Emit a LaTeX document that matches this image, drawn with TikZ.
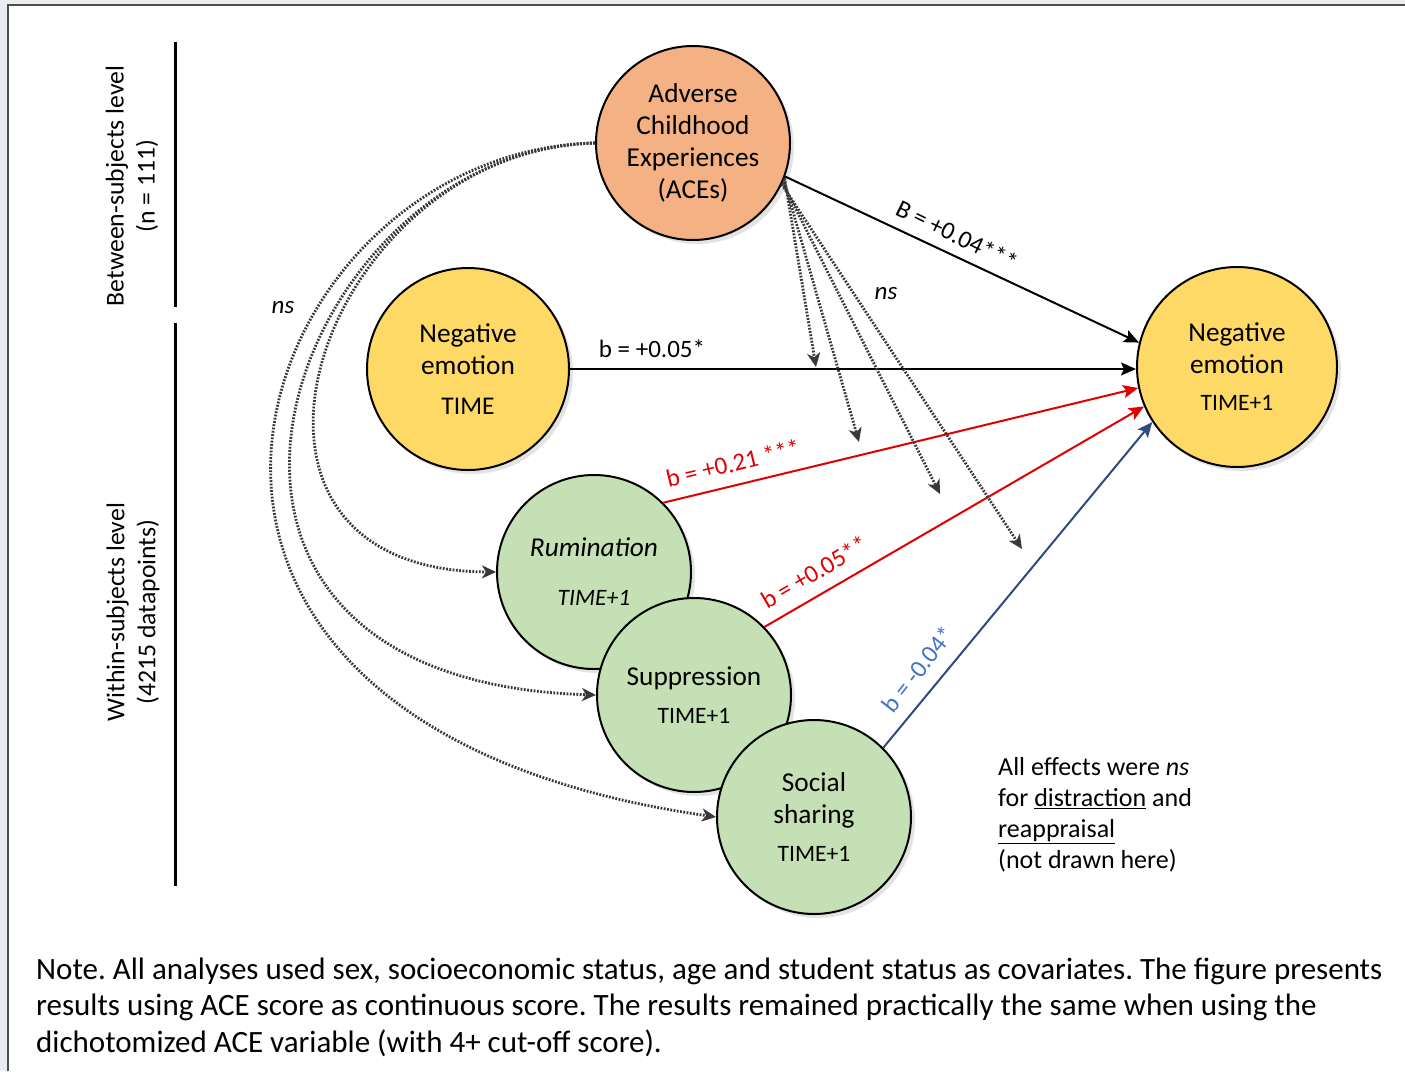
\documentclass[tikz,border=0pt]{standalone}
\usepackage{fontspec}
\setmainfont{Carlito}
\usetikzlibrary{arrows.meta,shadows}
\frenchspacing
\definecolor{bgout}{HTML}{E9EDF1}
\definecolor{frameline}{HTML}{4D4D4D}
\definecolor{aceor}{HTML}{F4B183}
\definecolor{yel}{HTML}{FFD966}
\definecolor{grn}{HTML}{C5E0B4}
\definecolor{redl}{HTML}{E00000}
\definecolor{navy}{HTML}{2F4A80}
\definecolor{bluetxt}{HTML}{4472C4}
\definecolor{dotc}{HTML}{383838}
\begin{document}
\begin{tikzpicture}[x=1pt,y=-1pt,
  var/.style={circle, draw=black, line width=2pt, align=center, inner sep=0pt,
    drop shadow={opacity=0.22, shadow xshift=4pt, shadow yshift=-4pt},
    font=\fontsize{27.3}{32}\selectfont},
  lbl/.style={inner sep=1pt, font=\fontsize{25}{29}\selectfont},
  solidarrow/.style={line width=2pt, -{Stealth[length=15pt,width=13pt,inset=3pt]}},
  dotarrow/.style={draw=dotc, line width=2.8pt, dash pattern=on 1.8pt off 1.5pt,
    -{Stealth[length=14pt,width=13pt,inset=4pt]}},
  sidelbl/.style={rotate=90, align=center, font=\fontsize{25.7}{31}\selectfont},
  bodytext/.style={align=left, inner sep=0pt}
]
\useasboundingbox (0,0) rectangle (1405,1071);
% frame
\fill[bgout] (0,0) rectangle (1405,1071);
\fill[white] (8,5) rectangle (1405,1071);
\draw[frameline, line width=2pt] (8,1071) -- (8,5) -- (1405,5);

% level separators
\draw[line width=3pt] (175,42) -- (175,307);
\draw[line width=3pt] (175,323) -- (175,886);
\node[sidelbl] (between) at (132,186) {Between-subjects level\\(n = 111)};
\node[sidelbl] (within) at (133,612) {Within-subjects level\\(4215 datapoints)};

% nodes
\node[var, fill=aceor, minimum size=194pt] (ace) at (693,143) {Adverse\\Childhood\\Experiences\\(ACEs)};
\node[var, fill=yel, minimum size=202pt] (negt) at (468,369) {Negative\\emotion\\[8pt]{\fontsize{25.5}{28}\selectfont TIME}};
\node[var, fill=yel, minimum size=200pt] (negt1) at (1237,367) {Negative\\emotion\\[5pt]{\fontsize{23.5}{26}\selectfont TIME+1}};
\node[var, fill=grn, minimum size=194pt] (rum) at (594,572) {\textit{Rumination}\\[17pt]{\fontsize{23.5}{26}\selectfont\textit{TIME+1}}};
\node[var, fill=grn, minimum size=194pt] (sup) at (694,695) {Suppression\\[6pt]{\fontsize{23.5}{26}\selectfont TIME+1}};
\node[var, fill=grn, minimum size=194pt] (soc) at (814,817) {Social\\sharing\\[6pt]{\fontsize{23.5}{26}\selectfont TIME+1}};

% moderation targets
\coordinate (m1) at (816,367);
\coordinate (m2) at (859,442);
\coordinate (m3) at (940,494);
\coordinate (m4) at (1022,549);

% main effects
\draw[solidarrow] (ace.-20) -- (negt1.166);
\draw[solidarrow] (negt.east) -- (negt.east -| negt1.west);
\draw[solidarrow, draw=redl, fill=redl] (rum.45) -- (negt1.192);
\draw[solidarrow, draw=redl, fill=redl] (sup.44) -- (negt1.203);
\draw[solidarrow, draw=navy, fill=navy] (soc.45) -- (negt1.213);

% ACE moderation (dotted)
\draw[dotarrow] (ace.-21) -- (m1);
\draw[dotarrow] (ace.-22.5) -- (m2);
\draw[dotarrow] (ace.-24) -- (m3);
\draw[dotarrow] (ace.-25.5) -- (m4);

% ACE -> regulation (dotted curves)
\draw[dotarrow] (ace.west) .. controls (320,150) and (180,570) .. (rum.west);
\draw[dotarrow] (ace.west) .. controls (290,150) and (100,680) .. (sup.west);
\draw[dotarrow] (ace.west) .. controls (250,150) and (40,720) .. (soc.west);

% edge labels
\node[lbl] (lb05) at (652,349) {b = +0.05*};
\node[lbl, rotate=-26] (lbB) at (957,235) {B = +0.04***};
\node[lbl, text=redl, rotate=13.5] (lb21) at (733,463) {b = +0.21 ***};
\node[lbl, text=redl, rotate=30.3] (lb05b) at (814,572) {b = +0.05**};
\node[lbl, text=bluetxt, rotate=52] (lb04) at (918,669) {b = -0.04*};
\node[lbl] (ns1) at (283,308) {\textit{ns}};
\node[lbl] (ns2) at (886,294) {\textit{ns}};

% side note
\node[bodytext, anchor=west, font=\fontsize{26}{31}\selectfont] (allns) at (998,815)
  {All effects were \textit{ns}\\for \underline{distraction} and\\\underline{reappraisal}\\(not drawn here)};

% bottom note
\node[bodytext, anchor=west, font=\fontsize{31}{36.5}\selectfont] (note) at (36,1007)
  {Note. All analyses used sex, socioeconomic status, age and student status as covariates. The figure presents\\
   results using ACE score as continuous score. The results remained practically the same when using the\\
   dichotomized ACE variable (with 4+ cut-off score).};
\end{tikzpicture}
\end{document}
